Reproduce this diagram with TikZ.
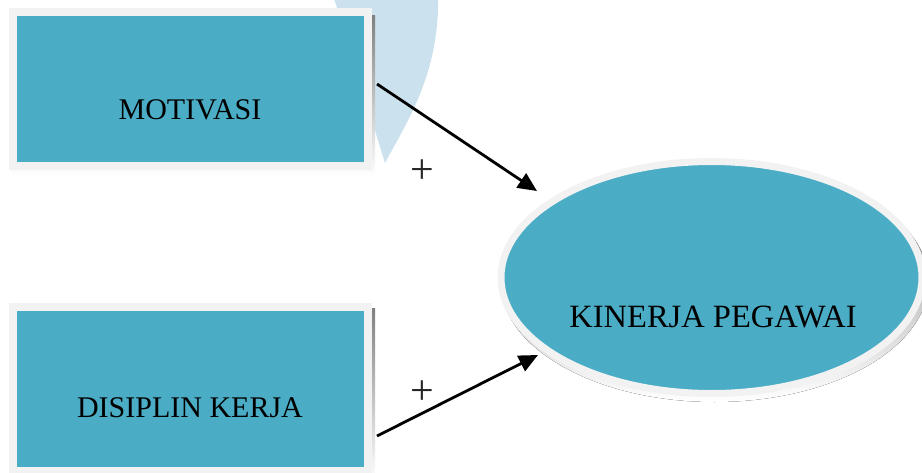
\documentclass[tikz,border=0pt]{standalone}
\usepackage{fontspec}
\setmainfont{Liberation Serif}
\usetikzlibrary{arrows.meta,shapes.geometric}
\definecolor{aqua}{HTML}{4BACC6}
\definecolor{rim}{HTML}{F2F2F2}
\definecolor{shade}{HTML}{8FAAB5}
\definecolor{wmark}{HTML}{CCE1EE}
\tikzset{
  boxshape/.style={rectangle, fill=aqua, draw=rim, line width=8pt, inner sep=0pt},
  ellshape/.style={ellipse, fill=aqua, draw=rim, line width=7pt, inner sep=0pt},
  boxlbl/.style={font=\fontsize{30}{34}\selectfont, anchor=base, inner sep=0pt},
  elllbl/.style={font=\fontsize{32.5}{36}\selectfont, anchor=base, inner sep=0pt},
  plussign/.style={font=\fontsize{42}{44}\selectfont, inner sep=0pt, text=black!85},
  conn/.style={line width=2.8pt, -{Triangle[length=19pt,width=17pt]}}
}
\begin{document}
\begin{tikzpicture}[x=1pt,y=-1pt]
\useasboundingbox (0,0) rectangle (922,472);
\begin{scope}
\clip (0,0) rectangle (922,472);
% watermark
\fill[wmark] (333,-5) -- (385,163) .. controls (405,125) and (440,75) .. (438,-5) -- cycle;
% shadows
\fill[shade] (12,15) rectangle (375,176);
\fill[shade] (12,308) rectangle (375,480);
\fill[shade] (714.5,282) ellipse [x radius=214, y radius=120];
% shapes
\node[boxshape, minimum width=355, minimum height=154] (m) at (190.5,89) {};
\node[boxshape, minimum width=355, minimum height=164] (d) at (190.5,389) {};
\node[ellshape, minimum width=421, minimum height=232] (k) at (711.5,277.5) {};
\end{scope}
\node[boxlbl] (mt) at (190,119) {MOTIVASI};
\node[boxlbl] (dt) at (190,417) {DISIPLIN KERJA};
\node[elllbl] (kt) at (713,327) {KINERJA PEGAWAI};
\node[plussign] (p1) at (422,172) {+};
\node[plussign] (p2) at (422,393) {+};
\coordinate (a1) at (377,84);
\coordinate (b1) at (537,191);
\coordinate (a2) at (377,436);
\coordinate (b2) at (538,355);
\draw[conn] (a1) -- (b1);
\draw[conn] (a2) -- (b2);
\end{tikzpicture}
\end{document}
